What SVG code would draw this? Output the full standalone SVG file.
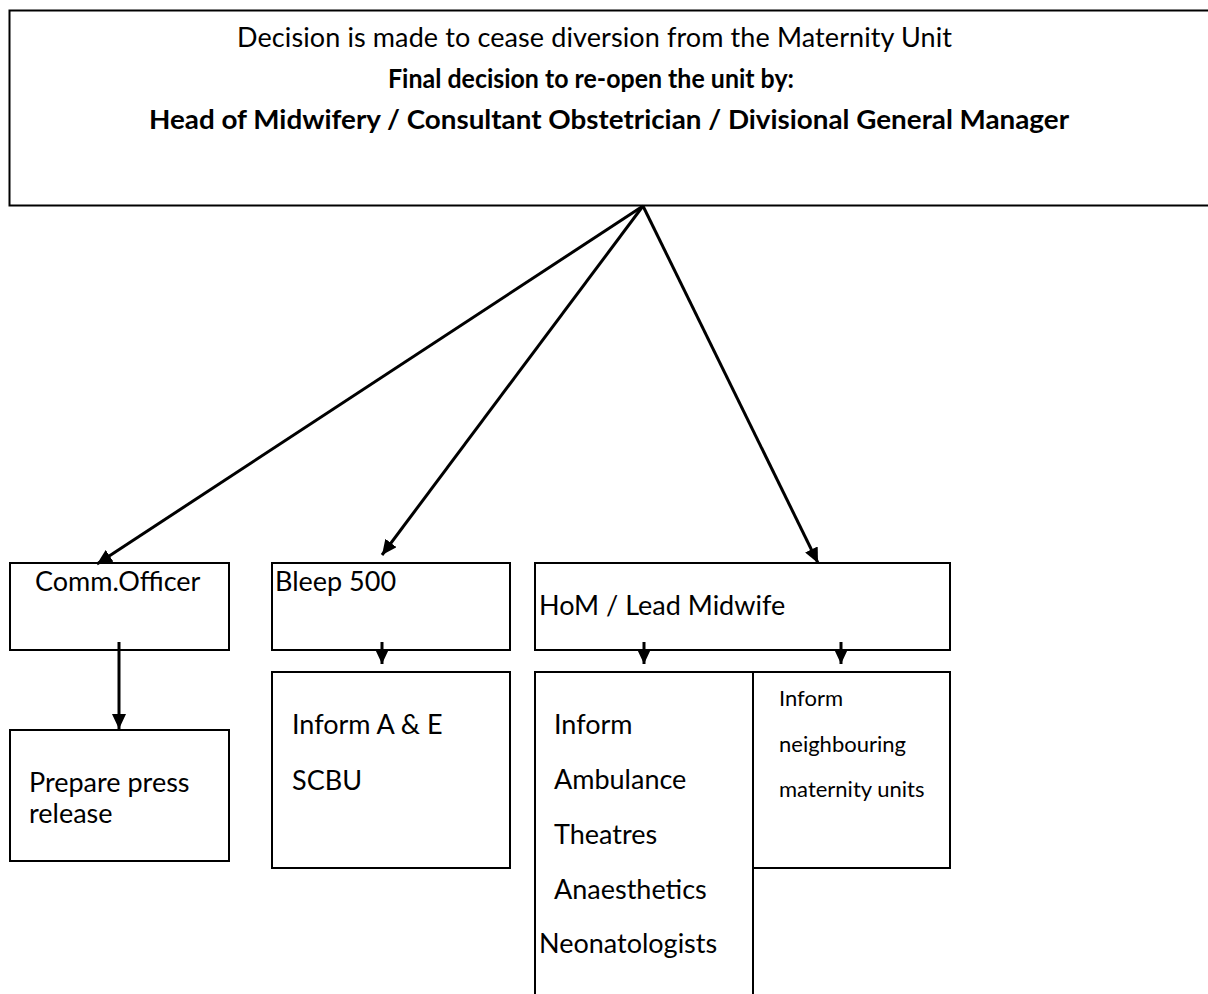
<svg xmlns="http://www.w3.org/2000/svg" width="1208" height="994" viewBox="0 0 1208 994">
<defs>
<marker id="ah" viewBox="0 0 10 10" refX="10" refY="5" markerWidth="15" markerHeight="14" markerUnits="userSpaceOnUse" orient="auto" preserveAspectRatio="none">
<path d="M0,0 L10,5 L0,10 z" fill="#000"/>
</marker>
<style>
.box{fill:#fff;stroke:#000;stroke-width:2}
.t{font-family:Lato,"Liberation Sans",sans-serif;fill:#000;font-size:27px}
.b{font-weight:bold}
.s{font-size:22px}
.c{stroke:#000;stroke-width:3;fill:none;marker-end:url(#ah)}
</style>
</defs>
<rect width="1208" height="994" fill="#fff"/>
<g id="top">
<rect class="box" x="9.5" y="10.5" width="1210" height="195"/>
<text class="t" x="237" y="47" font-size="24" textLength="715">Decision is made to cease diversion from the Maternity Unit</text>
<text class="t b" x="388" y="88" font-size="24" textLength="406" lengthAdjust="spacingAndGlyphs">Final decision to re-open the unit by:</text>
<text class="t b" x="149" y="129" font-size="24" textLength="920" lengthAdjust="spacingAndGlyphs">Head of Midwifery / Consultant Obstetrician / Divisional General Manager</text>
</g>
<g id="comm">
<rect class="box" x="10" y="563" width="219" height="87"/>
<text class="t" x="35" y="591">Comm.Officer</text>
</g>
<g id="bleep">
<rect class="box" x="272" y="563" width="238" height="87"/>
<text class="t" x="275" y="591">Bleep 500</text>
</g>
<g id="hom">
<rect class="box" x="535" y="563" width="415" height="87"/>
<text class="t" x="539" y="615">HoM / Lead Midwife</text>
</g>
<g id="press">
<rect class="box" x="10" y="730" width="219" height="131"/>
<text class="t" x="29" y="792">Prepare press</text>
<text class="t" x="29" y="823">release</text>
</g>
<g id="ae">
<rect class="box" x="272" y="672" width="238" height="196"/>
<text class="t" x="292" y="734">Inform A &amp; E</text>
<text class="t" x="292" y="790">SCBU</text>
</g>
<g id="inform">
<path class="box" d="M535,1000 V672 H753 V1000"/>
<text class="t" x="554" y="734">Inform</text>
<text class="t" x="554" y="789">Ambulance</text>
<text class="t" x="554" y="844">Theatres</text>
<text class="t" x="554" y="899">Anaesthetics</text>
<text class="t" x="539" y="953">Neonatologists</text>
</g>
<g id="neighbour">
<rect class="box" x="753" y="672" width="197" height="196"/>
<text class="t s" x="779" y="706">Inform</text>
<text class="t s" x="779" y="752">neighbouring</text>
<text class="t s" x="779" y="797">maternity units</text>
</g>
<g id="connectors">
<line class="c" x1="643" y1="206" x2="97" y2="564"/>
<line class="c" x1="643" y1="206" x2="382" y2="555"/>
<line class="c" x1="643" y1="206" x2="818" y2="563"/>
<line class="c" x1="119" y1="642" x2="119" y2="729"/>
<line class="c" x1="382" y1="642" x2="382" y2="664"/>
<line class="c" x1="644" y1="642" x2="644" y2="664"/>
<line class="c" x1="841" y1="642" x2="841" y2="664"/>
</g>
</svg>
